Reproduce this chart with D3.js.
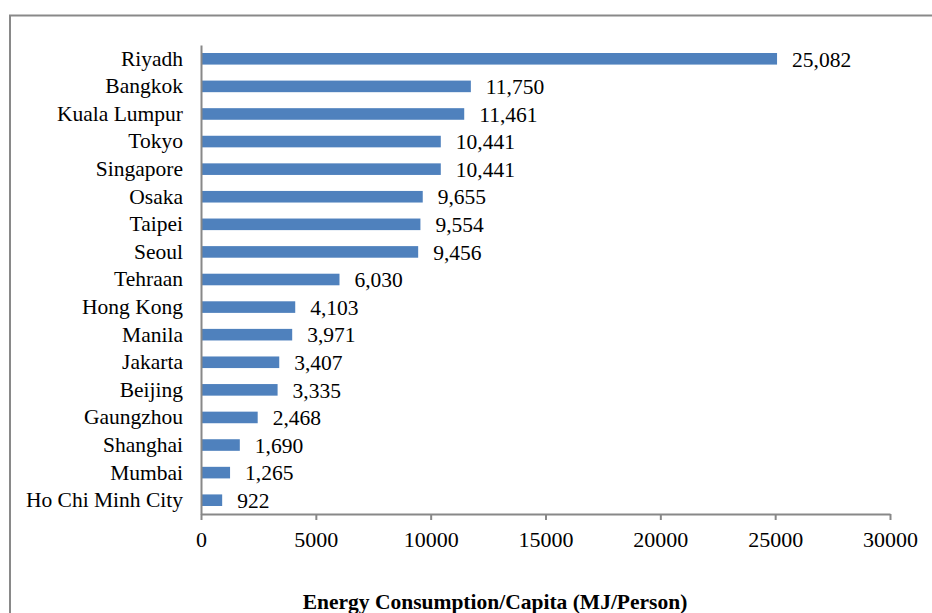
<!DOCTYPE html>
<html>
<head>
<meta charset="utf-8">
<script src="https://cdn.jsdelivr.net/npm/d3@7"></script>
<style>
html,body{margin:0;padding:0;background:#fff;}
svg{display:block;font-family:"Liberation Serif","Times New Roman",serif;}
</style>
</head>
<body>
<svg id="chart" width="932" height="613"></svg>
<script>
const cities = ["Riyadh","Bangkok","Kuala Lumpur","Tokyo","Singapore","Osaka","Taipei","Seoul","Tehraan","Hong Kong","Manila","Jakarta","Beijing","Gaungzhou","Shanghai","Mumbai","Ho Chi Minh City"];
const values = [25082,11750,11461,10441,10441,9655,9554,9456,6030,4103,3971,3407,3335,2468,1690,1265,922];
const xTicks = [0,5000,10000,15000,20000,25000,30000];
const xTitle = "Energy Consumption/Capita (MJ/Person)";

const svg = d3.select("#chart");
const mLeft = 201, mRight = 890, mTop = 45, mBottom = 514;
const FS = 21.5;

// frame
svg.append("path")
  .attr("d", "M10,613 L10,15.5 L932,15.5")
  .attr("fill","none").attr("stroke","#898989").attr("stroke-width",2);

const x = d3.scaleLinear().domain([0,30000]).range([mLeft,mRight]);
const y = d3.scaleBand().domain(cities).range([mTop,mBottom]).paddingInner(0.58).paddingOuter(0.29);

svg.append("g").selectAll("rect").data(cities).join("rect")
  .attr("x", x(0))
  .attr("y", d => y(d))
  .attr("width", (d,i) => x(values[i]) - x(0))
  .attr("height", y.bandwidth())
  .attr("fill", "#4F81BD");

const fmt = d3.format(",");
svg.append("g").selectAll("text").data(cities).join("text")
  .attr("x", (d,i) => x(values[i]) + 15)
  .attr("y", d => y(d) + y.bandwidth()/2)
  .attr("dy", "0.36em")
  .attr("font-size", FS)
  .attr("fill", "#000")
  .text((d,i) => fmt(values[i]));

// x axis
const xAxis = svg.append("g").attr("transform", `translate(0,${mBottom})`)
  .call(d3.axisBottom(x).tickValues(xTicks).tickFormat(d3.format("d")).tickSize(6).tickPadding(11).tickSizeOuter(0));
xAxis.select(".domain").attr("stroke","#888").attr("stroke-width",2);
xAxis.selectAll(".tick line").attr("stroke","#888").attr("stroke-width",2);
xAxis.selectAll(".tick text").attr("font-size",22).attr("fill","#000")
  .attr("font-family","Liberation Serif, Times New Roman, serif");

// y axis
const yAxis = svg.append("g").attr("transform", `translate(${mLeft},0)`)
  .call(d3.axisLeft(y).tickSize(0).tickPadding(18).tickSizeOuter(0));
yAxis.select(".domain").attr("stroke","#888").attr("stroke-width",2);
yAxis.selectAll(".tick text").attr("font-size",FS).attr("fill","#000")
  .attr("font-family","Liberation Serif, Times New Roman, serif");

svg.append("text")
  .attr("x", 495).attr("y", 609)
  .attr("text-anchor","middle")
  .attr("font-size",FS).attr("font-weight","bold")
  .text(xTitle);
</script>
</body>
</html>
